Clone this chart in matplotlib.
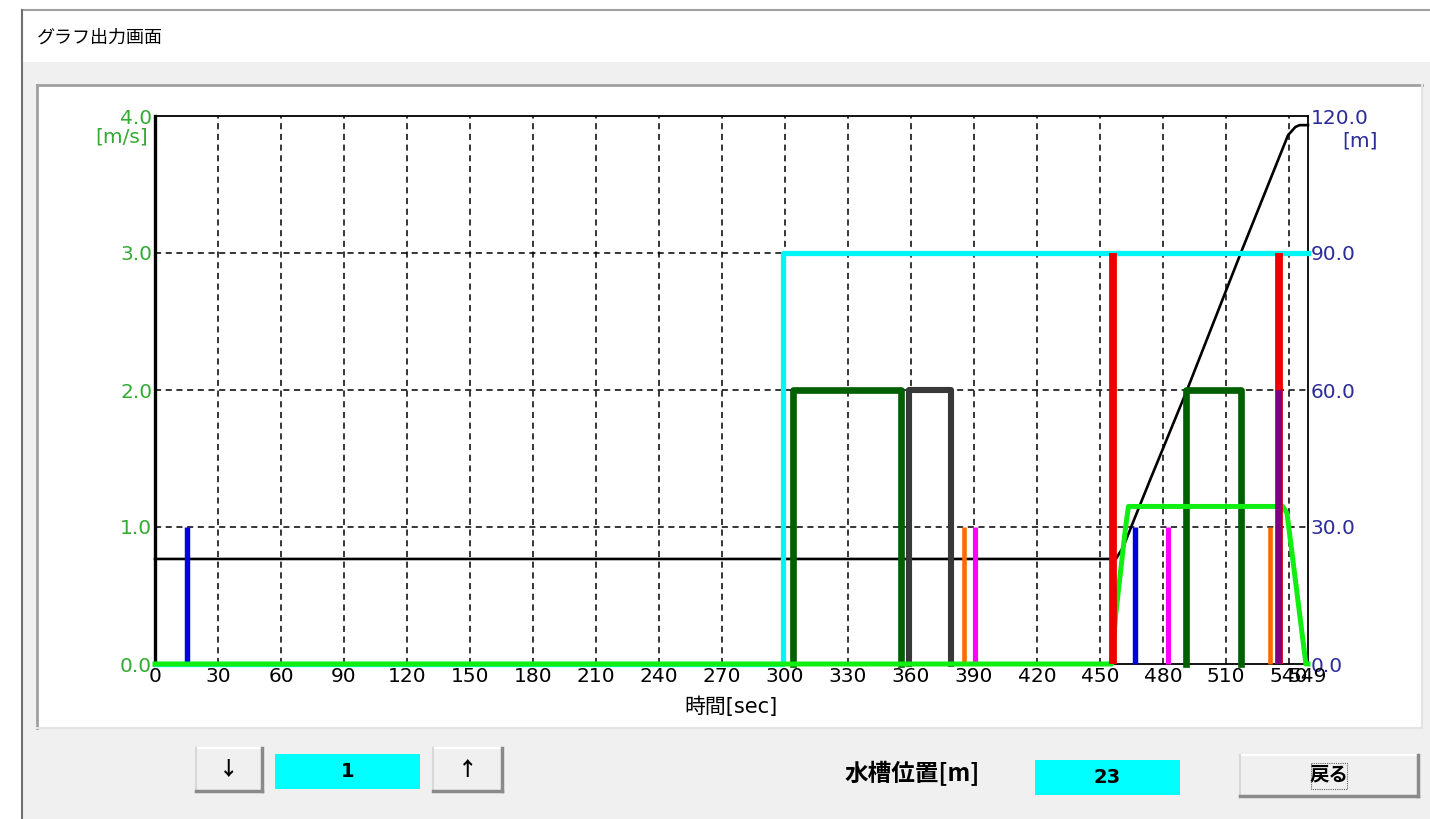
import matplotlib
matplotlib.use("Agg")
import matplotlib.pyplot as plt
from matplotlib.patches import Rectangle

plt.rcParams['font.family'] = ['DejaVu Sans', 'Noto Sans CJK JP']

# values (time in sec)
speed_t = [0, 455.5, 457.5, 462, 463.5, 537, 539, 548, 549]
speed_v = [0, 0, 0.37, 0.98, 1.15, 1.15, 1.1, 0, 0]

cyan_t = [0, 299, 299, 549]
cyan_v = [0, 0, 3.0, 3.0]

dgreen1_t = [304, 304, 355, 355]
dgreen2_t = [491, 491, 517, 517]
gray_t = [359, 359, 379, 379]
pulse_v = [0, 2.0, 2.0, 0]

blue_t = [15, 466.5]
orange_t = [385, 531]
magenta_t = [390.5, 482.5]
spike_h = 1.0
purple_t = [535]
purple_h = 2.0
red_t = [456, 535]
red_h = 3.0

# tank position [m] (right axis)
pos_t = [0, 457.5, 461, 466.7, 473.8, 491.4, 517.6, 539.5, 543, 545, 549]
pos_m = [23, 23, 25.6, 32.2, 40.3, 60, 90.7, 115.8, 117.6, 118, 118]

xticks = list(range(0, 541, 30)) + [549]
yticks_left = [0, 1, 2, 3, 4]
yticks_right = [0, 30, 60, 90, 120]

W, H = 1430, 819
fig = plt.figure(figsize=(W / 100, H / 100), dpi=100, facecolor='white')

# window chrome, drawn in pixel coords
bg = fig.add_axes([0, 0, 1, 1])
bg.set_xlim(0, W)
bg.set_ylim(H, 0)
bg.axis('off')
bg.set_zorder(-1)

bg.add_patch(Rectangle((22, 62), W - 22, H - 62, fc='#f0f0f0', ec='none'))
bg.plot([22, W], [10, 10], color='#a0a0a0', lw=1.5)
bg.plot([22, 22], [10, H], color='#707070', lw=1.5)
bg.text(37, 38, 'グラフ出力画面', fontsize=13, va='center', family='Noto Sans CJK JP')

# white panel with sunken border
bg.add_patch(Rectangle((37, 85), 1385, 643, fc='white', ec='none'))
bg.plot([37, 1422], [85, 85], color='#a0a0a0', lw=2)
bg.plot([37, 37], [85, 728], color='#a0a0a0', lw=2)
bg.plot([37, 1422], [728, 728], color='#e3e3e3', lw=1.5)
bg.plot([1422, 1422], [85, 728], color='#e3e3e3', lw=1.5)


def button(x0, y0, x1, y1, label, default=False):
    bg.add_patch(Rectangle((x0, y0), x1 - x0, y1 - y0, fc='#f0f0f0', ec='none'))
    bg.plot([x0, x1], [y0, y0], color='#ffffff', lw=1.5)
    bg.plot([x0, x0], [y0, y1], color='#d8d8d8', lw=1.5)
    bg.plot([x0, x1], [y1, y1], color='#8a8a8a', lw=2.5)
    bg.plot([x1, x1], [y0, y1], color='#8a8a8a', lw=2.5)
    if default:
        bg.add_patch(Rectangle((x0, y0), x1 - x0, y1 - y0, fc='none', ec='#303030', lw=1.4))
        cx, cy = (x0 + x1) / 2, (y0 + y1) / 2
        bg.add_patch(Rectangle((cx - 18, cy - 13), 36, 26, fc='none', ec='#606060',
                               lw=0.8, ls=(0, (1, 1))))
    bg.text((x0 + x1) / 2, (y0 + y1) / 2, label, ha='center', va='center',
            fontsize=14, fontweight='bold', family=['Noto Sans CJK JP', 'DejaVu Sans'])


def cyan_box(x0, y0, x1, y1, label):
    bg.add_patch(Rectangle((x0, y0), x1 - x0, y1 - y0, fc='#00ffff', ec='none'))
    bg.text((x0 + x1) / 2, (y0 + y1) / 2, label, ha='center', va='center',
            fontsize=14, fontweight='bold')


button(196, 748, 262, 791, '↓')
cyan_box(275, 754, 420, 789, '1')
button(433, 748, 502, 791, '↑')
bg.text(912, 774, '水槽位置[m]', ha='center', va='center', fontsize=17,
        fontweight='bold', family='Noto Sans CJK JP')
cyan_box(1035, 760, 1180, 795, '23')
button(1240, 755, 1418, 796, '戻る', default=True)

# chart
ax = fig.add_axes([155 / W, 1 - 664 / H, 1153 / W, 548 / H])
ax2 = ax.twinx()
ax.set_zorder(2)
ax2.set_zorder(1)
ax.patch.set_visible(False)

ax.set_xlim(0, 549)
ax.set_ylim(0, 4)
ax2.set_ylim(0, 120)

for xv in xticks[1:-1]:
    ax.axvline(xv, color='black', lw=1.1, ls=(0, (4, 3)), zorder=1)
for yv in yticks_left[1:-1]:
    ax.axhline(yv, color='black', lw=1.1, ls=(0, (4, 3)), zorder=1)

ax2.plot(pos_t, pos_m, color='black', lw=1.9, clip_on=False)

ax.plot(cyan_t, cyan_v, color='#00f5f5', lw=3.8, clip_on=False, zorder=3)
ax.plot(dgreen1_t, pulse_v, color='#005f00', lw=4.8, clip_on=False, zorder=3)
ax.plot(dgreen2_t, pulse_v, color='#005f00', lw=4.8, clip_on=False, zorder=3)
ax.plot(gray_t, pulse_v, color='#383838', lw=4.4, clip_on=False, zorder=3)
ax.vlines(blue_t, 0, spike_h, color='#0000e0', lw=3.9, clip_on=False, zorder=4)
ax.vlines(orange_t, 0, spike_h, color='#ff6a00', lw=3.3, clip_on=False, zorder=4)
ax.vlines(magenta_t, 0, spike_h, color='#ff00ff', lw=3.7, clip_on=False, zorder=4)
ax.plot(speed_t, speed_v, color='#11ee11', lw=3.6, clip_on=False, zorder=6)
ax.vlines(red_t, 0, red_h, color='#ee0000', lw=5.6, clip_on=False, zorder=7)
ax.vlines(purple_t, 0, purple_h, color='#800080', lw=4.6, clip_on=False, zorder=8)

ax.set_xticks(xticks)
ax.set_xticklabels([str(v) for v in xticks], fontsize=14.5)
ax.set_yticks(yticks_left)
ax.set_yticklabels(['%.1f' % v for v in yticks_left], fontsize=14.5, color='#33aa33')
ax2.set_yticks(yticks_right)
ax2.set_yticklabels(['%.1f' % v for v in yticks_right], fontsize=14.5, color='#2b2b99')
ax.tick_params(length=0, pad=2)
ax2.tick_params(length=0, pad=2)
ax.set_xlabel('時間[sec]', fontsize=15, labelpad=8, family=['DejaVu Sans', 'Noto Sans CJK JP'])

ax.annotate('[m/s]', xy=(0, 4), xycoords=('axes fraction', 'data'), xytext=(-5, -15),
            textcoords='offset points', ha='right', va='center', fontsize=14.5, color='#33aa33')
ax2.annotate('[m]', xy=(1, 120), xycoords=('axes fraction', 'data'), xytext=(50, -18),
             textcoords='offset points', ha='right', va='center', fontsize=14.5, color='#2b2b99')

for s in ax2.spines.values():
    s.set_visible(False)
ax.spines['left'].set_linewidth(2.4)
ax.spines['top'].set_linewidth(1.3)
ax.spines['right'].set_linewidth(1.3)
ax.spines['bottom'].set_linewidth(1.3)

fig.savefig('out.png', dpi=100)
